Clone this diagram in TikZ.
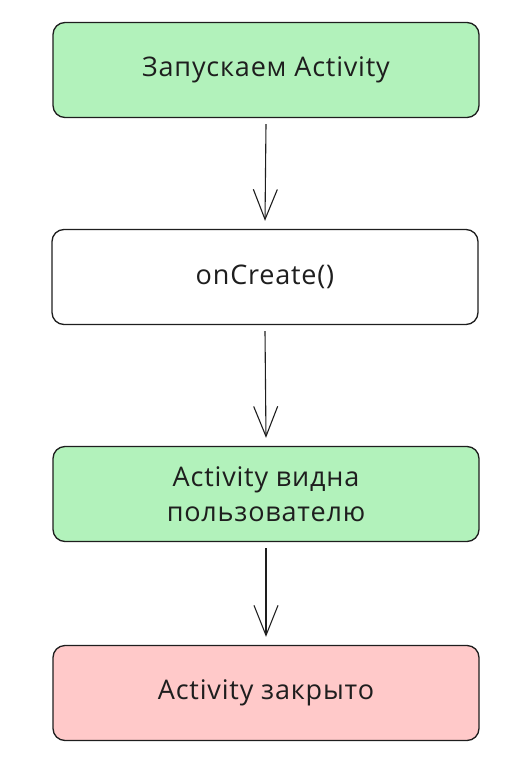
\documentclass[tikz,border=0pt]{standalone}
\usepackage{fontspec}
\setmainfont{Open Sans}[LetterSpace=3]
\usetikzlibrary{arrows.meta}
\definecolor{boxgreen}{HTML}{B2F2BB}
\definecolor{boxred}{HTML}{FFC9C9}
\definecolor{ink}{HTML}{1E1E1E}
\begin{document}
\begin{tikzpicture}[x=1pt,y=-1pt,
  stepbox/.style={draw=ink,line width=1.3pt,rounded corners=12pt,minimum width=426pt,minimum height=95pt,align=center,font=\fontsize{27}{35}\selectfont,text=ink},
  flow/.style={draw=ink,line width=1.1pt,-{Straight Barb[length=30pt,width=24pt,line width=1.1pt]}}]
\useasboundingbox (0,0) rectangle (526,774);
\node[stepbox,fill=boxgreen] (start) at (266,70) {Запускаем Activity};
\node[stepbox,fill=white] (create) at (265,277) {onCreate()};
\node[stepbox,fill=boxgreen] (visible) at (266,494) {Activity видна\\пользователю};
\node[stepbox,fill=boxred] (closed) at (266,693) {Activity закрыто};
\draw[flow] ([yshift=-6pt]start.south) -- ([yshift=8pt]create.north);
\draw[flow] ([yshift=-6pt]create.south) -- ([yshift=8pt]visible.north);
\draw[flow] ([yshift=-6pt]visible.south) -- ([yshift=8pt]closed.north);
\end{tikzpicture}
\end{document}
